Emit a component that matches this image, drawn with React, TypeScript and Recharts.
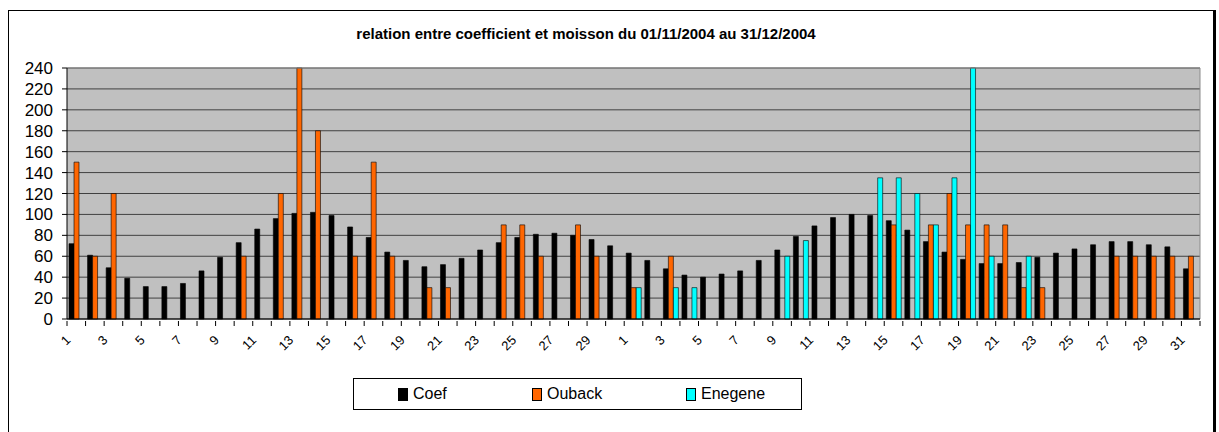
import React from "react";
import { BarChart, Bar, XAxis, YAxis, CartesianGrid, ReferenceLine } from "recharts";

// jours : novembre (30) puis décembre (31)
const novDays = Array.from({ length: 30 }, (_, i) => String(i + 1));
const decDays = Array.from({ length: 31 }, (_, i) => String(i + 1));
const dayLabels = [...novDays, ...decDays];

const coef = [
  72, 61, 49, 39, 31, 31, 34, 46, 59, 73, 86, 96, 101, 102, 99, 88, 78, 64, 56, 50, 52, 58, 66, 73, 78, 81, 82, 80, 76, 70,
  63, 56, 48, 42, 40, 43, 46, 56, 66, 79, 89, 97, 100, 99, 94, 85, 74, 64, 57, 53, 53, 54, 59, 63, 67, 71, 74, 74, 71, 69, 48,
];

const ouback: (number | null)[] = [
  150, 60, 120, null, null, null, null, null, null, 60, null, 120, 240, 180, null, 60, 150, 60, null, 30, 30, null, null, 90, 90, 60, null, 90, 60, null,
  30, null, 60, null, null, null, null, null, null, null, null, null, null, null, 90, null, 90, 120, 90, 90, 90, 30, 30, null, null, null, 60, 60, 60, 60, 60,
];

const enegene: (number | null)[] = [
  null, null, null, null, null, null, null, null, null, null, null, null, null, null, null, null, null, null, null, null, null, null, null, null, null, null, null, null, null, null,
  30, null, 30, 30, null, null, null, null, 60, 75, null, null, null, 135, 135, 120, 90, 135, 240, 60, null, 60, null, null, null, null, null, null, null, null, null,
];

const yTicks = [0, 20, 40, 60, 80, 100, 120, 140, 160, 180, 200, 220, 240];

const data = dayLabels.map((d, i) => ({
  key: `${i < 30 ? "11" : "12"}-${d}`,
  day: d,
  Coef: coef[i],
  Ouback: ouback[i],
  Enegene: enegene[i],
}));

const FONT = "'Liberation Sans', Arial, sans-serif";
const PLOT_LEFT = 67;
const PLOT_RIGHT = 1200;
const STEP = (PLOT_RIGHT - PLOT_LEFT) / data.length;

const DayTick = (props: any) => {
  const { x, y, payload } = props;
  const idx = payload.index;
  const left = x - STEP / 2;
  return (
    <g>
      <line x1={left} y1={y} x2={left} y2={y + 5} stroke="#000" />
      {idx === data.length - 1 && <line x1={x + STEP / 2} y1={y} x2={x + STEP / 2} y2={y + 5} stroke="#000" />}
      {idx % 2 === 0 && (
        <g transform={`translate(${x - 5}, ${y + 20}) rotate(-45)`}>
          <text x={0} y={0} textAnchor="end" fontSize={13} fontFamily={FONT} fill="#000">
            {data[idx].day}
          </text>
        </g>
      )}
    </g>
  );
};

const legendItems = [
  { name: "Coef", color: "#000000", x: 44 },
  { name: "Ouback", color: "#FF6600", x: 178 },
  { name: "Enegene", color: "#00FFFF", x: 332 },
];

export default function App() {
  return (
    <div style={{ position: "relative", width: 1219, height: 432, overflow: "hidden", background: "#fff" }}>
      <style>{"body{margin:0;overflow:hidden}"}</style>
      <div
        style={{
          position: "absolute",
          left: 8,
          top: 10,
          width: 1204,
          height: 460,
          borderLeft: "1px solid #000",
          borderTop: "1px solid #000",
          borderRight: "3px solid #000",
        }}
      />
      <div
        style={{
          position: "absolute",
          left: 286,
          top: 25,
          width: 600,
          textAlign: "center",
          fontFamily: FONT,
          fontWeight: "bold",
          fontSize: 15,
          lineHeight: "17px",
        }}
      >
        relation entre coefficient et moisson du 01/11/2004 au 31/12/2004
      </div>
      <div style={{ position: "absolute", left: 0, top: 0 }}>
        <BarChart
          width={1219}
          height={432}
          data={data}
          margin={{ top: 68, right: 1219 - PLOT_RIGHT, left: 0, bottom: 73 }}
          barGap={0}
          barSize={5}
        >
          <CartesianGrid vertical={false} stroke="#404040" fill="#C0C0C0" fillOpacity={1} />
          <CartesianGrid horizontal={false} verticalPoints={[PLOT_RIGHT]} stroke="#8c8c8c" />
          <ReferenceLine y={240} stroke="#8c8c8c" />
          <XAxis
            dataKey="key"
            interval={0}
            height={40}
            tickSize={0}
            tickLine={false}
            tick={<DayTick />}
            axisLine={{ stroke: "#000" }}
          />
          <YAxis
            width={PLOT_LEFT}
            domain={[0, 240]}
            ticks={yTicks}
            interval={0}
            tickSize={5}
            tickMargin={9}
            axisLine={{ stroke: "#000" }}
            tickLine={{ stroke: "#000" }}
            tick={{ fill: "#000", fontSize: 17, fontFamily: FONT }}
          />
          <Bar dataKey="Coef" fill="#000000" stroke="#000" strokeWidth={0.6} isAnimationActive={false} />
          <Bar dataKey="Ouback" fill="#FF6600" stroke="#000" strokeWidth={0.6} isAnimationActive={false} />
          <Bar dataKey="Enegene" fill="#00FFFF" stroke="#000" strokeWidth={0.6} isAnimationActive={false} />
        </BarChart>
      </div>
      <div
        style={{
          position: "absolute",
          left: 353,
          top: 378,
          width: 447,
          height: 30,
          border: "1px solid #000",
          background: "#fff",
          fontFamily: FONT,
          fontSize: 16,
        }}
      >
        {legendItems.map((it) => (
          <div key={it.name} style={{ position: "absolute", left: it.x, top: 6, display: "flex", alignItems: "center" }}>
            <span
              style={{
                display: "inline-block",
                width: 8,
                height: 11,
                background: it.color,
                border: "1px solid #000",
                marginRight: 5,
              }}
            />
            <span style={{ lineHeight: "18px" }}>{it.name}</span>
          </div>
        ))}
      </div>
    </div>
  );
}
